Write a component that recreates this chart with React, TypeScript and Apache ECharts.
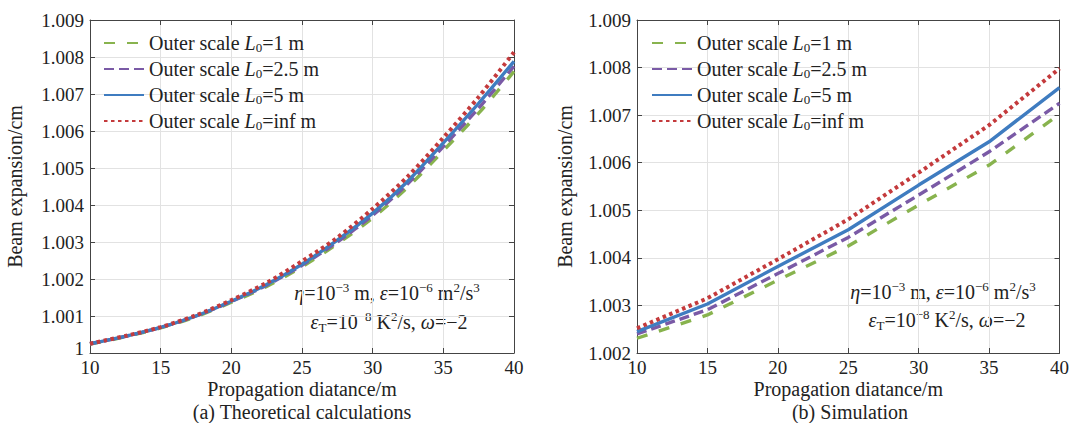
import React, { useEffect, useRef } from "react";
import * as echarts from "echarts";

const FONT = "'Liberation Serif', 'Times New Roman', Times, 'DejaVu Serif', serif";

// (a) Theoretical calculations
const distanceTheory = [10, 12.5, 15, 17.5, 20, 22.5, 25, 27.5, 30, 32.5, 35, 37.5, 40];
const theoryL1 = [1.00024, 1.00044, 1.00068, 1.00098, 1.00137, 1.0018, 1.00233, 1.00295, 1.00365, 1.00449, 1.00547, 1.00648, 1.00761];
const theoryL25 = [1.00025, 1.00045, 1.00069, 1.001, 1.00139, 1.00183, 1.00237, 1.003, 1.00372, 1.00458, 1.00558, 1.00662, 1.00775];
const theoryL5 = [1.00025, 1.00045, 1.00069, 1.001, 1.0014, 1.00185, 1.0024, 1.00305, 1.00378, 1.00465, 1.00568, 1.00675, 1.00788];
const theoryLinf = [1.00025, 1.00046, 1.0007, 1.00102, 1.00143, 1.0019, 1.00248, 1.00312, 1.0039, 1.00478, 1.00582, 1.00692, 1.00813];

// (b) Simulation
const distanceSim = [10, 15, 20, 25, 30, 35, 40];
const simL1 = [1.00231, 1.0028, 1.00353, 1.00425, 1.00511, 1.00595, 1.00702];
const simL25 = [1.0024, 1.00291, 1.00367, 1.00443, 1.00532, 1.00623, 1.00725];
const simL5 = [1.00245, 1.00303, 1.00382, 1.00459, 1.00553, 1.00644, 1.00758];
const simLinf = [1.00252, 1.00315, 1.00397, 1.00481, 1.00579, 1.00679, 1.00798];

const outerScales = ["1", "2.5", "5", "inf"];
const seriesNames = outerScales.map((s) => `Outer scale L0=${s} m`);
const colors = ["#88b34e", "#7a5aa6", "#3f7cc0", "#c43a3c"];
const dashTypes: any[] = [[11, 12], [10, 5], "solid", [3.5, 3.5]];
const widths = [3.4, 3.4, 3.4, 4];

const xTicks = { min: 10, max: 40, interval: 5 };
const yTicksA = { min: 1.0, max: 1.009, interval: 0.001 };
const yTicksB = { min: 1.002, max: 1.009, interval: 0.001 };

const xTitle = "Propagation diatance/m";
const yTitle = "Beam expansion/cm";
const captions = ["(a) Theoretical calculations", "(b) Simulation"];

const axisColor = "#444";
const gridColor = "#e2e2e2";

function mainX(gridIndex: number) {
  return {
    gridIndex,
    type: "value",
    ...xTicks,
    position: "bottom",
    axisLine: { show: true, onZero: false, lineStyle: { color: axisColor, width: 1 } },
    axisTick: { show: true, inside: true, length: 5, lineStyle: { color: axisColor } },
    axisLabel: { fontSize: 19, fontFamily: FONT, color: "#222", margin: 5 },
    splitLine: { show: true, lineStyle: { color: gridColor, width: 1 } },
    name: xTitle,
    nameLocation: "middle",
    nameGap: 26,
    nameMoveOverlap: false,
    nameTextStyle: { fontSize: 20, fontFamily: FONT, color: "#222" },
  };
}
function mirrorX(gridIndex: number) {
  return {
    gridIndex,
    type: "value",
    ...xTicks,
    position: "top",
    axisLine: { show: true, onZero: false, lineStyle: { color: axisColor, width: 1 } },
    axisTick: { show: true, inside: true, length: 5, lineStyle: { color: axisColor } },
    axisLabel: { show: false },
    splitLine: { show: false },
  };
}
function mainY(gridIndex: number, ticks: any, gap: number) {
  return {
    gridIndex,
    type: "value",
    ...ticks,
    position: "left",
    axisLine: { show: true, onZero: false, lineStyle: { color: axisColor, width: 1 } },
    axisTick: { show: true, inside: true, length: 5, lineStyle: { color: axisColor } },
    axisLabel: {
      fontSize: 19,
      fontFamily: FONT,
      color: "#222",
      margin: 6,
      formatter: (v: number) => {
        const r = Math.round(v * 1000) / 1000;
        return r === 1 ? "{one|1}" : r.toFixed(3);
      },
      rich: {
        one: { fontSize: 19, fontFamily: FONT, color: "#222", padding: [0, 0, 10, 0] },
      },
    },
    splitLine: { show: true, lineStyle: { color: gridColor, width: 1 } },
    name: yTitle,
    nameLocation: "middle",
    nameRotate: 90,
    nameGap: gap,
    nameMoveOverlap: false,
    nameTextStyle: { fontSize: 20, fontFamily: FONT, color: "#222" },
  };
}
function mirrorY(gridIndex: number, ticks: any) {
  return {
    gridIndex,
    type: "value",
    ...ticks,
    position: "right",
    axisLine: { show: true, onZero: false, lineStyle: { color: axisColor, width: 1 } },
    axisTick: { show: true, inside: true, length: 5, lineStyle: { color: axisColor } },
    axisLabel: { show: false },
    splitLine: { show: false },
  };
}

function makeSeries(xs: number[], sets: number[][], xi: number, yi: number, smooth: boolean) {
  return sets.map((vals, k) => ({
    name: seriesNames[k],
    type: "line",
    xAxisIndex: xi,
    yAxisIndex: yi,
    data: xs.map((x, i) => [x, vals[i]]),
    showSymbol: false,
    symbol: "none",
    smooth: smooth ? 0.3 : false,
    z: 2 + k,
    lineStyle: { color: colors[k], width: widths[k], type: dashTypes[k], cap: "butt" },
    itemStyle: { color: colors[k] },
  }));
}

const legendRich = {
  n: { fontSize: 20, fontFamily: FONT, color: "#222", lineHeight: 22 },
  i: { fontSize: 20, fontFamily: FONT, color: "#222", fontStyle: "italic", lineHeight: 22 },
  sub: { fontSize: 13, fontFamily: FONT, color: "#222", lineHeight: 12, verticalAlign: "bottom" },
};

function makeLegend(left: number, top: number) {
  return {
    left,
    top,
    padding: 0,
    orient: "vertical",
    itemWidth: 40,
    itemHeight: 20,
    itemGap: 5,
    data: seriesNames,
    itemStyle: { opacity: 0 },
    formatter: (name: string) => {
      const idx = seriesNames.indexOf(name);
      return `{n|Outer scale }{i|L}{sub|0}{n|=${outerScales[idx]} m}`;
    },
    textStyle: { fontSize: 20, fontFamily: FONT, color: "#222", rich: legendRich },
  };
}

const annoRich = {
  n: { fontSize: 20, fontFamily: FONT, fill: "#222", color: "#222", lineHeight: 24 },
  i: { fontSize: 20, fontFamily: FONT, fill: "#222", color: "#222", fontStyle: "italic", lineHeight: 24 },
  sup: { fontSize: 13, fontFamily: FONT, fill: "#222", color: "#222", lineHeight: 12, verticalAlign: "top" },
  sub: { fontSize: 13, fontFamily: FONT, fill: "#222", color: "#222", lineHeight: 12, verticalAlign: "bottom" },
};
const annoLine1 = "{i|η}{n|=10}{sup|−3}{n| m, }{i|ε}{n|=10}{sup|−6}{n| m}{sup|2}{n|/s}{sup|3}";
const annoLine2 = "{i|ε}{sub|T}{n|=10}{sup|−8}{n| K}{sup|2}{n|/s, }{i|ω}{n|=−2}";

function annoText(x: number, y: number, text: string) {
  return {
    type: "text",
    x,
    y,
    style: { text, rich: annoRich, align: "center", verticalAlign: "middle", fontSize: 20, fontFamily: FONT, fill: "#222" },
  };
}
function caption(x: number, y: number, text: string) {
  return {
    type: "text",
    x,
    y,
    style: { text, align: "center", verticalAlign: "middle", fontSize: 20, fontFamily: FONT, fill: "#222" },
  };
}

export default function App() {
  const ref = useRef<HTMLDivElement>(null);
  useEffect(() => {
    if (!ref.current) return;
    const chart = echarts.init(ref.current, undefined, { renderer: "svg" });
    chart.setOption({
      animation: false,
      backgroundColor: "#ffffff",
      textStyle: { fontFamily: FONT },
      grid: [
        { left: 90, top: 20, width: 424, height: 333 },
        { left: 637, top: 20, width: 425, height: 333 },
      ],
      xAxis: [mainX(0), mirrorX(0), mainX(1), mirrorX(1)],
      yAxis: [mainY(0, yTicksA, 65), mirrorY(0, yTicksA), mainY(1, yTicksB, 62), mirrorY(1, yTicksB)],
      legend: [makeLegend(103, 33), makeLegend(651, 33)],
      series: [
        ...makeSeries(distanceTheory, [theoryL1, theoryL25, theoryL5, theoryLinf], 0, 0, true),
        ...makeSeries(distanceSim, [simL1, simL25, simL5, simLinf], 2, 2, false),
      ],
      graphic: [
        annoText(387, 293, annoLine1),
        annoText(389, 322, annoLine2),
        annoText(943, 292, annoLine1),
        annoText(947, 320, annoLine2),
        caption(302, 412, captions[0]),
        caption(850, 412, captions[1]),
      ],
    });
    return () => chart.dispose();
  }, []);
  return (
    <div
      ref={ref}
      style={{ position: "fixed", left: 0, top: 0, width: 1072, height: 423, background: "#fff" }}
    />
  );
}
